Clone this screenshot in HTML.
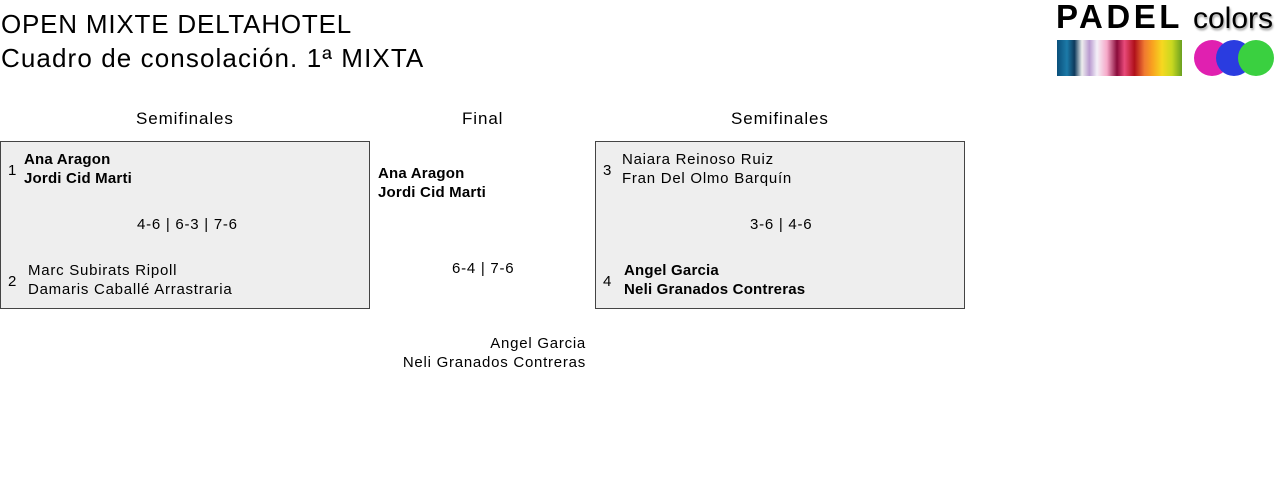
<!DOCTYPE html>
<html><head><meta charset="utf-8"><style>
body{margin:0;width:1280px;height:481px;background:#fff;font-family:"Liberation Sans",sans-serif;color:#000;position:relative;overflow:hidden}
.a{position:absolute;white-space:nowrap}
.t{font-size:26px;line-height:34px;letter-spacing:0.8px}
.h{font-size:17px;letter-spacing:0.9px}
.n{font-size:15px;line-height:19px;letter-spacing:0.75px}
.b{font-weight:bold;letter-spacing:0.2px}
.box{position:absolute;background:#eee;border:1px solid #444;box-sizing:border-box}
</style></head><body>
<div class="a t" style="left:1px;top:7px">OPEN MIXTE DELTAHOTEL</div>
<div class="a t" style="left:1px;top:41px;letter-spacing:1.1px">Cuadro de consolación. 1ª MIXTA</div>

<div class="a" style="left:1056px;top:-2px;font-size:33px;font-weight:bold;letter-spacing:3.5px">PADEL</div>
<div class="a" style="left:1193px;top:2px;font-size:30px;text-shadow:1px 2px 2px #999">colors</div>
<div class="a" style="left:1057px;top:40px;width:125px;height:36px;background:linear-gradient(90deg,#0a4f7a 0,#1c7aa8 8%,#0e3a5c 14%,#eee 20%,#b99ad0 26%,#f4f0f8 32%,#f6a8c8 40%,#8a0b3a 48%,#e84a7a 54%,#b0101a 62%,#f07a30 70%,#f8a020 76%,#f6d820 84%,#c8d820 92%,#6aa020 100%)"></div>
<svg class="a" style="left:1192px;top:38px" width="86" height="40">
<circle cx="20" cy="20" r="18" fill="#e020b0"/><circle cx="42" cy="20" r="18" fill="#2a3ce0"/><circle cx="64" cy="20" r="18" fill="#3ad040"/></svg>

<div class="a h" style="left:136px;top:109px">Semifinales</div>
<div class="a h" style="left:462px;top:109px">Final</div>
<div class="a h" style="left:731px;top:109px">Semifinales</div>

<div class="box" style="left:0;top:141px;width:370px;height:168px"></div>
<div class="a n" style="left:8px;top:161px">1</div>
<div class="a n b" style="left:24px;top:150px">Ana Aragon<br>Jordi Cid Marti</div>
<div class="a n" style="left:137px;top:215px">4-6 | 6-3 | 7-6</div>
<div class="a n" style="left:8px;top:272px">2</div>
<div class="a n" style="left:28px;top:261px">Marc Subirats Ripoll<br>Damaris Caballé Arrastraria</div>

<div class="a n b" style="left:378px;top:164px">Ana Aragon<br>Jordi Cid Marti</div>
<div class="a n" style="left:452px;top:259px">6-4 | 7-6</div>
<div class="a n" style="right:694px;top:334px;text-align:right">Angel Garcia<br>Neli Granados Contreras</div>

<div class="box" style="left:595px;top:141px;width:370px;height:168px"></div>
<div class="a n" style="left:603px;top:161px">3</div>
<div class="a n" style="left:622px;top:150px">Naiara Reinoso Ruiz<br>Fran Del Olmo Barquín</div>
<div class="a n" style="left:750px;top:215px">3-6 | 4-6</div>
<div class="a n" style="left:603px;top:272px">4</div>
<div class="a n b" style="left:624px;top:261px">Angel Garcia<br>Neli Granados Contreras</div>
</body></html>
